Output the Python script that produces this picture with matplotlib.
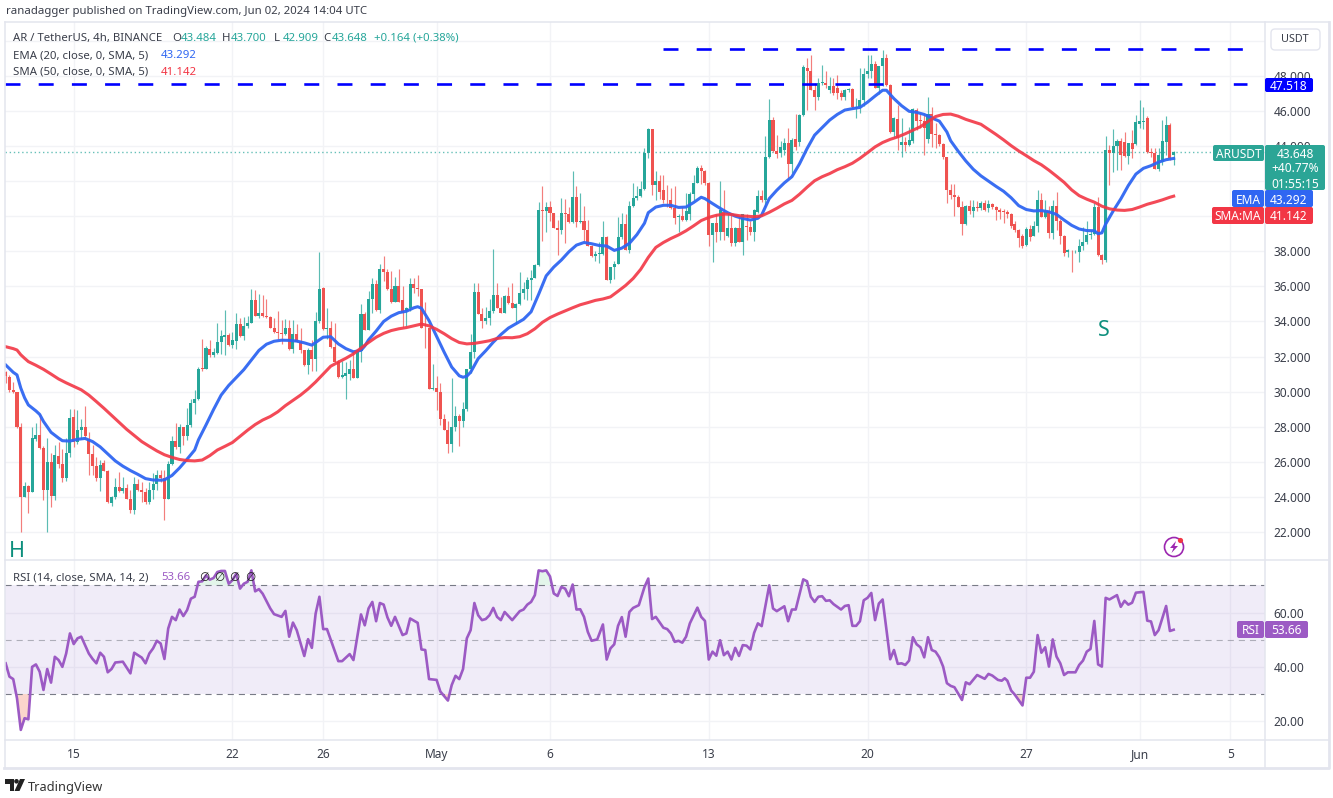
import matplotlib
matplotlib.use("Agg")
import matplotlib.pyplot as plt
from matplotlib.patches import FancyBboxPatch, Polygon, Circle
import numpy as np

plt.rcParams['font.family'] = ['Noto Sans', 'DejaVu Sans']

# 4h candles
opens = [31.1,30.85,30.1,30.0,28.0,24.0,24.6,24.3,27.3,27.5,
    26.8,24.4,26.0,24.05,26.35,25.9,25.05,26.5,28.55,27.15,
    27.8,28.0,27.3,26.45,25.75,25.05,25.95,25.5,23.65,24.0,
    24.55,24.35,24.5,23.85,23.25,24.75,24.4,24.3,23.7,24.4,
    24.75,25.25,25.05,23.9,25.9,27.2,26.85,28.0,27.45,28.1,
    29.35,29.55,31.35,31.3,32.45,32.1,32.2,32.85,33.1,33.25,
    32.65,32.9,33.85,33.15,33.75,33.9,35.25,34.3,34.5,34.3,
    34.25,33.65,33.4,33.35,33.3,33.65,32.45,33.3,32.85,32.35,
    31.5,32.4,31.85,34.0,35.9,33.55,33.65,32.55,31.7,30.85,
    30.9,31.0,31.3,30.8,32.3,34.4,33.5,35.3,36.15,34.65,
    37.0,36.8,35.85,35.1,36.0,35.25,34.6,34.75,36.15,35.9,
    35.85,33.65,33.6,30.15,30.2,30.0,28.45,27.8,27.0,28.0,
    28.6,28.3,29.0,31.3,32.25,35.7,34.45,34.0,34.2,34.6,
    35.5,34.75,34.5,35.45,35.05,34.75,35.0,35.6,35.85,36.35,
    36.5,37.2,40.35,40.3,40.5,40.2,39.3,39.2,40.2,40.1,
    39.65,41.1,39.65,39.75,39.2,38.3,37.75,37.85,37.85,38.8,
    36.35,37.1,37.3,38.8,39.55,38.1,40.6,41.05,41.15,41.55,
    43.6,44.95,41.75,42.0,41.5,40.95,40.9,40.45,39.95,40.0,
    39.8,40.15,41.25,41.9,42.75,42.6,41.9,38.95,39.6,39.1,
    40.25,38.85,39.3,38.45,39.35,38.55,39.45,39.4,39.1,40.25,
    41.15,40.9,43.4,45.5,43.7,43.6,43.75,44.15,43.0,44.4,
    44.25,45.75,48.45,48.3,47.2,46.8,47.6,47.6,47.2,47.4,
    47.3,47.0,46.8,47.2,47.25,46.15,46.2,46.6,48.1,48.3,
    48.7,47.3,48.55,49.0,47.5,44.8,45.55,44.05,44.25,44.05,
    44.3,46.05,45.5,45.45,44.4,45.85,44.7,44.6,44.1,43.4,
    41.5,41.2,41.1,40.55,39.55,40.6,40.3,40.55,40.45,40.75,
    40.45,40.7,40.55,40.35,40.3,40.25,40.15,39.55,39.2,38.85,
    38.35,39.25,38.85,39.45,40.95,39.95,40.3,39.05,40.6,39.7,
    38.85,37.95,38.1,38.05,37.98,38.3,38.5,38.95,39.0,40.55,
    37.8,37.5,43.8,43.6,44.0,44.3,44.25,43.45,44.2,44.1,
    45.25,45.35,45.6,43.65,43.6,42.7,43.1,44.25,45.2,43.484]
highs = [31.2,30.95,30.55,30.0,28.2,24.85,24.65,28.0,28.2,28.75,
    26.9,27.35,26.5,26.95,27.15,26.7,27.35,29.0,29.0,28.95,
    28.45,29.2,27.7,26.95,26.3,26.1,26.1,25.55,24.05,25.1,
    25.4,25.15,24.75,24.4,25.15,25.0,24.85,24.5,24.85,25.35,
    25.55,25.55,25.55,26.05,27.45,28.2,28.15,28.0,29.05,29.55,
    30.1,31.4,33.0,32.6,32.95,32.5,33.9,33.5,34.65,33.35,
    33.4,34.5,34.2,34.25,34.3,35.85,35.8,35.55,35.5,35.3,
    34.3,34.2,34.6,34.1,34.15,34.1,34.1,33.85,33.6,32.4,
    32.5,32.95,34.55,37.95,35.95,34.75,34.05,33.9,31.8,31.75,
    31.7,31.8,32.3,32.4,35.0,34.55,35.75,36.45,36.35,37.3,
    37.75,37.0,36.9,36.55,37.0,36.0,34.85,36.45,36.45,36.65,
    35.85,35.1,33.6,31.6,30.9,30.5,28.7,28.35,30.75,29.2,
    28.75,29.4,31.3,33.3,36.2,36.2,34.75,34.8,35.3,38.15,
    36.2,35.4,35.5,35.95,36.2,35.05,36.8,36.25,36.55,36.95,
    37.3,40.8,41.7,40.8,40.85,40.2,39.8,41.05,41.0,40.55,
    42.55,41.7,41.3,40.6,39.8,38.35,38.0,38.5,39.75,38.85,
    37.1,37.45,39.95,40.2,40.1,40.85,41.9,41.7,42.0,43.9,
    45.05,44.95,42.6,42.35,42.35,41.8,41.6,41.7,40.15,40.55,
    41.3,41.4,42.35,42.85,42.9,42.65,41.95,39.6,40.15,42.0,
    41.5,40.15,40.15,39.4,39.95,40.15,40.1,39.75,40.4,41.5,
    41.5,44.55,46.7,45.65,44.65,44.3,44.45,45.0,44.45,45.85,
    45.85,48.6,49.0,49.2,47.6,47.85,48.6,48.3,47.95,47.85,
    48.05,47.2,47.25,47.3,47.3,46.75,48.45,48.45,49.2,49.2,
    48.85,48.55,49.5,49.25,47.55,45.65,46.35,45.6,44.5,45.1,
    46.15,46.15,45.85,45.8,46.8,46.25,45.3,44.7,44.15,43.4,
    41.85,41.85,41.2,40.85,40.65,40.95,40.9,40.85,40.85,40.9,
    40.95,40.75,40.6,40.45,40.4,40.35,40.2,39.7,39.25,39.0,
    39.4,39.5,39.7,41.5,41.35,40.9,40.6,40.95,41.4,39.85,
    38.9,38.15,38.1,38.1,38.7,39.4,39.7,39.2,40.75,41.1,
    37.85,44.55,44.05,44.95,44.4,44.45,44.8,44.2,44.9,45.75,
    46.65,46.25,45.7,43.9,43.9,43.9,45.5,45.7,45.3,43.7]
lows = [30.5,30.0,29.9,27.9,22.0,24.0,23.1,24.3,27.2,26.75,
    23.8,22.0,23.4,23.8,25.65,24.85,24.9,26.3,26.85,27.0,
    27.3,27.3,25.25,25.25,24.9,24.35,25.5,23.65,23.5,23.85,
    24.3,24.2,23.85,23.1,23.0,24.35,23.7,23.6,23.6,23.85,
    24.4,24.85,22.7,23.9,25.8,26.75,26.5,26.95,27.25,28.0,
    28.75,29.5,31.2,31.3,32.0,31.95,32.15,32.15,32.1,32.6,
    32.5,32.45,33.1,32.95,33.6,33.9,34.3,34.2,34.25,34.2,
    33.6,33.35,33.0,32.7,33.2,32.4,32.2,32.8,32.2,31.45,
    31.0,31.15,31.2,33.9,33.5,33.0,32.5,31.7,30.8,30.8,
    29.6,30.65,30.8,30.8,31.7,33.5,33.5,34.5,34.6,34.5,
    36.3,35.8,35.05,35.1,35.1,33.7,33.75,34.6,35.6,35.45,
    33.6,32.5,30.15,30.1,28.95,28.1,27.8,26.5,26.55,27.75,
    26.9,28.0,28.9,31.05,31.9,34.45,33.6,33.85,33.8,34.5,
    34.75,34.5,34.5,35.0,34.75,33.85,34.95,35.3,35.2,35.2,
    36.5,37.15,38.6,39.1,39.75,39.3,37.8,39.0,38.45,39.6,
    39.6,39.4,39.6,38.6,38.3,37.65,37.45,37.35,37.8,36.35,
    36.2,36.4,37.3,38.7,38.1,37.9,40.5,40.9,41.1,41.5,
    43.3,41.2,40.9,41.0,40.75,40.55,40.4,39.55,39.1,39.75,
    39.75,39.8,40.95,41.9,41.85,41.8,38.3,37.4,38.55,38.65,
    38.65,38.8,38.3,38.3,38.5,37.8,38.65,38.9,38.6,40.2,
    40.8,40.5,43.3,43.65,43.3,43.4,43.5,42.2,42.45,43.8,
    44.0,45.7,46.05,47.2,46.05,46.6,47.5,47.3,47.0,46.9,
    46.7,46.65,46.6,47.1,46.15,45.6,45.9,46.3,47.9,47.9,
    47.3,46.95,47.4,47.4,44.75,44.45,43.75,43.4,43.7,44.0,
    44.2,44.9,45.0,43.5,44.2,43.95,43.9,44.0,43.25,40.75,
    41.0,40.0,40.5,38.95,39.5,40.1,39.95,40.3,40.35,40.3,
    40.25,40.4,39.8,39.85,39.6,39.9,39.3,39.1,38.25,38.2,
    38.3,38.6,38.85,39.1,39.95,39.9,38.75,38.7,39.2,38.4,
    37.75,37.65,36.8,37.9,37.4,38.1,38.4,38.7,38.9,37.75,
    37.25,37.4,41.8,42.5,42.65,42.65,43.4,43.0,43.3,44.05,
    45.0,44.95,43.6,43.4,42.7,42.6,42.9,43.5,43.2,42.909]
closes = [30.9,30.1,29.95,28.0,24.0,24.6,24.3,27.35,27.5,26.8,
    24.4,26.0,24.05,26.4,25.85,25.05,26.5,28.5,27.15,27.8,
    28.0,27.45,26.45,25.75,25.05,25.8,25.5,23.7,24.0,24.55,
    24.35,24.5,23.85,23.25,24.75,24.4,24.25,23.7,24.4,24.75,
    25.25,25.05,23.9,25.9,27.2,26.85,28.0,27.45,28.1,29.35,
    29.55,31.3,31.3,32.5,32.1,32.25,32.85,33.15,33.25,32.65,
    32.95,33.85,33.15,33.75,33.9,35.25,34.3,34.5,34.3,34.25,
    33.65,33.4,33.35,33.3,33.65,32.45,33.3,32.85,32.35,31.5,
    32.4,31.85,34.0,35.85,33.55,33.65,32.55,31.7,30.85,30.95,
    31.05,31.3,30.8,32.3,34.4,33.5,35.3,36.15,34.65,37.0,
    36.8,35.85,35.1,36.0,35.1,34.5,34.75,36.15,35.9,35.85,
    33.65,33.6,30.15,30.2,30.0,28.45,27.8,27.0,28.0,28.6,
    28.3,29.0,31.3,32.25,35.7,34.45,34.0,34.2,34.6,35.5,
    34.75,34.5,35.45,35.05,34.75,35.0,35.6,35.85,36.35,36.5,
    37.2,40.35,40.3,40.5,40.2,39.3,39.2,40.2,40.1,39.65,
    41.1,39.65,39.75,39.2,38.3,37.75,37.85,37.9,38.8,36.35,
    37.1,37.3,38.8,39.55,38.1,40.6,41.05,41.15,41.55,43.6,
    44.95,41.75,42.0,41.4,40.9,40.9,40.45,39.9,40.0,39.8,
    40.3,41.25,41.9,42.75,42.6,41.9,38.95,39.6,39.1,40.35,
    39.1,39.3,38.45,39.35,38.55,40.1,39.4,39.1,40.35,41.15,
    40.9,43.4,45.5,43.7,43.55,43.95,44.15,43.0,44.35,43.95,
    45.75,48.5,48.3,47.2,46.8,47.6,47.65,47.5,47.4,47.0,
    47.0,46.8,47.2,47.25,46.2,46.25,46.6,48.1,48.3,48.7,
    47.3,48.55,49.0,47.5,44.8,45.6,44.45,44.25,44.05,44.35,
    46.1,45.45,45.4,45.0,45.85,44.7,44.6,44.1,43.35,41.5,
    41.2,41.1,40.55,39.55,40.6,40.3,40.55,40.45,40.75,40.35,
    40.7,40.55,40.35,40.25,40.25,40.15,39.45,39.2,38.75,38.3,
    39.25,38.8,39.45,40.95,39.95,40.3,39.05,40.6,39.7,38.85,
    37.9,38.1,38.05,38.05,38.3,38.5,38.95,39.0,40.55,37.8,
    37.5,43.8,43.6,44.0,44.3,43.5,43.45,44.2,43.85,45.35,
    45.4,45.45,43.65,43.6,42.7,43.5,44.3,45.2,43.3,43.648]

# moving averages
ema_bar = [0,2,3,4,5,6,8,9,10,12,14,15,17,19,21,23,25,27,29,31,33,35,37,39,41,42,44,46,48,50,51,53,55,57,59,61,63,65,67,69,71,73,75,77,79,81,82,84,86,
    88,90,92,94,95,96,98,100,102,104,106,108,109,110,112,114,116,118,120,121,122,123,125,127,129,131,133,135,137,139,141,143,145,147,149,151,153,155,157,159,161,163,165,167,169,
    170,172,174,176,178,180,182,184,185,187,189,191,193,195,197,199,200,202,204,206,208,210,212,214,216,218,220,222,224,226,228,230,232,233,235,237,239,241,243,245,247,249,250,252,
    254,256,258,260,262,264,266,268,270,272,274,276,278,280,282,284,286,288,289,290,291,293,295,297,299,301,303,305,307,309]
ema_val = [31.52,31.1,30.95,30.2,29.65,29.24,28.9,28.7,28.3,27.68,27.35,27.2,27.18,27.28,27.33,27.15,26.85,26.45,26.05,25.75,25.5,25.28,25.04,24.96,24.95,24.97,25.22,25.65,26.15,26.67,27.25,28.1,28.98,29.8,30.35,30.8,31.25,31.8,32.35,32.7,32.87,32.93,32.92,32.88,32.78,32.65,32.8,33.1,33.13,
    32.72,32.45,32.27,32.35,32.6,32.95,33.45,34.0,34.3,34.5,34.58,34.78,34.84,34.75,34.05,33.15,32.25,31.4,30.9,30.82,30.88,31.1,31.88,32.33,32.82,33.25,33.62,33.87,34.12,34.55,35.55,36.6,37.1,37.5,37.97,38.35,38.5,38.43,38.33,38.3,38.05,38.18,38.45,38.95,39.6,
    40.2,40.52,40.62,40.62,40.5,40.52,40.78,41.08,41.0,40.72,40.45,40.2,40.0,39.87,39.78,39.88,40.07,41.0,41.48,41.9,42.25,42.98,43.85,44.62,45.05,45.48,45.8,46.05,46.13,46.2,46.5,46.85,47.18,47.18,46.7,46.3,45.98,45.92,45.8,45.6,45.42,44.8,44.3,43.7,
    43.15,42.67,42.3,42.0,41.7,41.42,41.05,40.6,40.38,40.3,40.32,40.25,40.1,39.78,39.48,39.27,39.18,39.17,39.0,39.05,39.55,40.3,40.98,41.75,42.4,42.73,42.88,43.08,43.22,43.292]
sma_bar = [0,2,3,4,5,6,8,10,12,14,16,18,20,22,24,26,28,30,32,34,36,38,40,42,44,46,48,50,52,54,56,58,60,62,64,66,68,70,72,74,76,78,80,82,84,86,
    88,90,92,94,96,98,100,102,104,106,108,110,112,114,116,118,120,122,124,126,128,130,132,134,136,138,140,142,144,146,148,150,152,154,156,158,160,162,164,166,168,
    170,172,174,176,178,180,182,184,186,188,190,192,194,196,198,200,202,204,206,208,210,212,214,216,218,220,222,224,226,228,230,232,234,236,238,240,242,244,246,248,250,
    252,254,256,258,260,262,264,266,268,270,272,274,276,278,280,282,284,286,288,290,292,294,296,298,300,302,304,306,308,309]
sma_val = [32.56,32.45,32.37,32.1,31.9,31.71,31.5,31.27,31.0,30.72,30.5,30.3,30.1,29.8,29.43,29.05,28.65,28.25,27.85,27.5,27.15,26.88,26.62,26.4,26.25,26.13,26.07,26.05,26.1,26.35,26.67,26.88,27.1,27.45,27.8,28.12,28.38,28.58,28.85,29.2,29.5,29.8,30.15,30.55,31.0,31.45,
    31.68,31.9,32.15,32.48,32.8,33.1,33.32,33.48,33.58,33.65,33.75,33.85,33.75,33.55,33.3,33.02,32.8,32.72,32.75,32.82,32.9,33.03,33.08,33.07,33.13,33.3,33.58,33.95,34.22,34.42,34.6,34.78,34.95,35.07,35.2,35.28,35.4,35.72,36.05,36.45,36.97,
    37.65,38.22,38.5,38.73,38.93,39.17,39.45,39.75,39.93,40.05,40.12,40.1,40.03,40.0,39.97,40.02,40.22,40.45,40.7,40.9,41.25,41.65,42.02,42.25,42.43,42.65,42.82,43.02,43.3,43.62,43.95,44.2,44.38,44.52,44.7,44.9,45.1,45.4,45.68,45.8,45.82,
    45.7,45.52,45.38,45.24,44.95,44.66,44.35,44.02,43.72,43.45,43.17,42.93,42.62,42.28,41.93,41.5,41.17,40.97,40.8,40.57,40.42,40.35,40.33,40.38,40.52,40.68,40.8,40.93,41.08,41.142]

# RSI, one reading per turning point
rsi_bar = [0,1,2,3,4,5,6,7,8,9,10,11,12,13,14,15,16,17,18,19,20,21,22,23,24,25,26,27,28,29,31,33,34,36,37,38,39,40,41,42,43,44,45,46,47,48,49,50,51,52,53,54,55,56,57,58,59,60,61,62,63,64,65,66,67,68,70,71,73,74,75,76,77,79,80,81,82,83,84,85,88,89,91,92,94,95,96,97,98,99,100,101,102,103,105,106,107,109,110,111,112,114,115,117,
    118,119,120,121,122,123,124,125,126,127,128,129,130,131,132,134,136,137,138,139,140,141,142,143,144,145,146,147,148,149,150,151,152,153,154,155,156.5,158,159,160,161,162,163,164,165,166,167.5,169,170,171,172,174,175,176,177,178,179,180,181,183,184,185,186,187,188,189,190,191,192,193,194,195,196,197,198,199,200,202,203,204,206,207,208,209,211,212,213,214,215,216,217,218,219,221,222,223,224,225,226,227,228,229,230,231,232,
    234,235,236,237,238,239,240,241,242,243,244,245,246,247,248,249,250,251,253,254,255,257,259,260,261,262.5,263.5,264.3,265,266,267,269,270,271,272,273,274,275,276,277,278,279,280,281,283,284,285,286,287,288,289,290,291,292,294,295,296,297,298,299,301,302,303,304,305,307,308,309]
rsi_val = [41.3,36.4,35.5,28.4,16.8,21.1,20.7,40,40.9,38.2,31.5,39.2,34.2,43.7,42.5,40,44.9,52.3,48.4,50.5,51.1,48,44.9,42.9,41.3,45.2,43.7,38,39.2,41.6,41.9,37.6,45.2,43.4,41.3,44.9,46.8,49.6,48.6,42.9,54.1,58.4,57.2,61.1,58.7,60.9,65.1,65.8,71.3,71.5,73.7,72.1,72.7,74.9,75.3,75.3,70.6,71.9,74.3,68.8,70.6,71.3,75.5,67.8,68.6,66.9,61.5,59.4,58.4,60.6,51.1,56.3,53.5,44,50.2,47,59.6,65.8,53.9,53.9,42.1,42.1,44.7,42.5,59.3,55.3,61.5,63.9,56.8,63.5,62.9,58.2,55.1,58.4,51.7,52.3,57.8,56.2,46.4,46.2,35.5,35.2,30.9,27.6,
    33.3,36.7,35.5,39.2,50.5,53.5,63.5,59,57.2,57.6,59,61.7,58.4,57.2,60.2,57.2,60.5,61.1,62.9,63.9,66.4,75.5,75.2,75.5,73.3,67,66.1,69.4,68.8,66,70.3,61.1,61.2,58.4,52.9,49.6,50.1,55.6,42.7,46.8,48.3,55.1,58.3,51.1,60.2,61.7,62.7,69.4,72.5,57.6,58.4,54.4,53.9,52.3,49.2,49.6,48.9,51.1,56,61.8,58.4,56.9,42.7,45.6,44.1,49.8,44.3,45.6,42.7,47,44,48,47.8,46.4,52.5,56,55,70,61.5,60.5,62.3,56.8,61.1,61.1,72.2,71.5,65.8,63.9,65.8,66,64.3,64.5,63.1,61.1,62.4,62.7,55.1,55.1,56.8,64.5,65.4,67.2,57.2,63.3,64.8,
    42.8,46.2,41.1,41.3,40.7,42.3,50.9,48.3,47.2,43.5,50.9,46.2,45.6,43.5,40.1,34,33,32.5,27.8,34.3,33.6,37,35.6,37.4,36.8,35.2,34.9,35.8,34.9,31.3,29.7,25.8,36,36,38.2,51.7,45.2,47.2,40.1,50.1,43.8,41.3,37,38,38,40.7,42.3,45.6,46.6,56.9,40.9,40.1,65.4,64.8,66.4,62.1,64.3,62.9,63.6,67.3,67.6,57,56.7,51.7,53.5,62.4,53.2,53.66]

# levels and axis labels
resistance_low = 47.518
resistance_high = 49.53
last_price = 43.648
price_ticks = [22, 24, 26, 28, 30, 32, 34, 36, 38, 40, 42, 44, 46, 48]
hidden_price_labels = [40, 42]  # sit fully behind the tags on the scale
rsi_ticks = [20, 40, 60]
date_bars = [18, 60, 84, 114, 144, 186, 228, 270, 300, 324]
date_labels = ['15', '22', '26', 'May', '6', '13', '20', '27', 'Jun', '5']

UP = '#26a69a'
DOWN = '#ef5350'
BLUE = '#2f66f2'
RED = '#f23645'
PURPLE = '#9c5ac4'
GRID = '#f2f3f6'
BORDER = '#e3e5ee'
TEXT = '#3a3e4a'
W, H = 1333, 798


def rect(x0, y0, x1, y1):
    return [x0 / W, 1 - y1 / H, (x1 - x0) / W, (y1 - y0) / H]


fig = plt.figure(figsize=(W / 100, H / 100), dpi=100, facecolor='white')
ax = fig.add_axes(rect(5, 22, 1265, 560))
ax_rsi = fig.add_axes(rect(5, 560, 1265, 740))

bar_px = 3.78
xlim = ((5 - 5.67) / bar_px, (1265 - 5.67) / bar_px)

bars = np.arange(len(closes))
o = np.array(opens)
c = np.array(closes)
cols = [UP if c[i] >= o[i] else DOWN for i in bars]

# price pane
ax.set_xlim(xlim)
ax.set_ylim(20.40, 51.07)
ax.vlines(bars, lows, highs, colors=cols, lw=0.85, alpha=0.75, zorder=3)
ax.bar(bars, np.maximum(np.abs(c - o), 0.05), bottom=np.minimum(o, c), width=0.8, color=cols, lw=0, zorder=4)
ax.plot(ema_bar, ema_val, color=BLUE, lw=2.2, alpha=0.95, zorder=5, solid_joinstyle='round')
ax.plot(sma_bar, sma_val, color=RED, lw=2.2, alpha=0.9, zorder=5, solid_joinstyle='round')
ax.axhline(last_price, color=UP, lw=1, ls=(0, (1, 2)), alpha=0.7, zorder=2)
dash_style = (0, (5.68, 6.9))
ax.plot([-0.18, 328.3], [resistance_low] * 2, color='#0000ff', lw=1.9, ls=dash_style, zorder=6, dash_capstyle='butt')
ax.plot([173.9, 328.3], [resistance_high] * 2, color='#0000ff', lw=1.9, ls=dash_style, zorder=6, dash_capstyle='butt')
ax.text(3, 20.9, 'H', color='#0d8f7d', fontsize=15.5, ha='center', va='center', zorder=7)
ax.text(290.6, 33.5, 'S', color='#0d8f7d', fontsize=15.5, ha='center', va='center', zorder=7)

ax.set_yticks(price_ticks)
ax.set_yticklabels(['' if t in hidden_price_labels else '%.3f' % t for t in price_ticks])
ax.axhline(50, color=GRID, lw=1, zorder=0)

# RSI pane
r_x = np.array(rsi_bar, dtype=float)
r_y = np.array(rsi_val, dtype=float)
ax_rsi.set_xlim(xlim)
ax_rsi.set_ylim(13.08, 79.33)
ax_rsi.axhspan(30, 70, color='#7e57c2', alpha=0.11, lw=0, zorder=1)
ax_rsi.fill_between(r_x, r_y, 30, where=r_y < 30, interpolate=True, color='#fbd5cc', lw=0, zorder=1)
ax_rsi.fill_between(r_x, r_y, 70, where=r_y > 70, interpolate=True, color='#e3f5ea', lw=0, zorder=1)
for lev, a in zip([70, 50, 30], [1, 0.55, 1]):
    ax_rsi.axhline(lev, color='#787b86', lw=0.8, ls=(0, (5.5, 4.5)), alpha=a, zorder=2)
ax_rsi.plot(r_x, r_y, color=PURPLE, lw=1.9, zorder=5, solid_joinstyle='round')
ax_rsi.set_yticks(rsi_ticks)
ax_rsi.set_yticklabels(['%.2f' % t for t in rsi_ticks])

for a in (ax, ax_rsi):
    a.yaxis.tick_right()
    a.tick_params(axis='y', length=0, pad=6, labelsize=8.6, labelcolor=TEXT)
    a.set_xticks(date_bars)
    a.grid(True, color=GRID, lw=1, zorder=0)
    a.set_axisbelow(True)
    for s in a.spines.values():
        s.set_visible(False)
ax.tick_params(axis='x', length=0, labelbottom=False)
ax_rsi.set_xticklabels(date_labels)
ax_rsi.tick_params(axis='x', length=0, pad=6, labelsize=8.6, labelcolor=TEXT)
for lab in ax_rsi.get_xticklabels():
    if lab.get_text() in ('May', 'Jun'):
        lab.set_fontweight('bold')

# overlay in pixels for the frame, tags and header
top = fig.add_axes([0, 0, 1, 1], zorder=10)
top.set_xlim(0, W)
top.set_ylim(H, 0)
top.axis('off')
top.patch.set_alpha(0)

for seg in [((5, 22), (1329, 22)), ((5, 22), (5, 768)), ((1265, 22), (1265, 768)), ((5, 560), (1329, 560)), ((5, 740), (1329, 740))]:
    top.plot([seg[0][0], seg[1][0]], [seg[0][1], seg[1][1]], color=BORDER, lw=1.1)
top.plot([4, 1329, 1329], [768, 768, 22], color=BORDER, lw=2)


def tag(x0, y0, x1, y1, color, lines, fs=8.6):
    top.add_patch(FancyBboxPatch((x0 + 1, y0 + 1), x1 - x0 - 2, y1 - y0 - 2, boxstyle='round,pad=1,rounding_size=2',
                                 fc=color, ec='none', zorder=3))
    step = (y1 - y0) / len(lines)
    for i, s in enumerate(lines):
        top.text((x0 + x1) / 2, y0 + step * (i + 0.5), s, color='white', fontsize=fs, ha='center', va='center_baseline', zorder=4)


tag(1265, 78, 1313, 92, '#0000ff', ['47.518'])
tag(1213, 145, 1264, 161, '#2ba596', ['ARUSDT'])
tag(1265, 145, 1325, 190, '#2ba596', ['43.648', '+40.77%', '01:55:15'])
tag(1232, 190, 1264, 207, BLUE, ['EMA'])
tag(1265, 190, 1313, 207, BLUE, ['43.292'])
tag(1212, 207, 1264, 224, RED, ['SMA:MA'])
tag(1265, 207, 1313, 224, RED, ['41.142'])
tag(1237, 621, 1264, 638, PURPLE, ['RSI'])
tag(1265, 621, 1308, 638, PURPLE, ['53.66'])

# USDT button
top.add_patch(FancyBboxPatch((1272, 30), 47, 19, boxstyle='round,pad=1,rounding_size=4', fc='white', ec=BORDER, lw=1, zorder=3))
top.text(1295, 40, 'USDT', fontsize=7.8, color=TEXT, ha='center', va='center', zorder=4)


def label(x, y, s, color=TEXT, fs=8.2, **kw):
    top.text(x, y, s, color=color, fontsize=fs, ha='left', va='center_baseline', zorder=5, **kw)


label(6, 10, 'ranadagger published on TradingView.com, Jun 02, 2024 14:04 UTC')
label(13, 37, 'AR / TetherUS, 4h, BINANCE')
head_x = [172, 222, 274, 323]
head_k = ['O', 'H', 'L', 'C']
head_v = ['43.484', '43.700', '42.909', '43.648']
for x, k, v in zip(head_x, head_k, head_v):
    label(x, 37, k)
    label(x + 9, 37, v, color=UP)
label(374, 37, '+0.164 (+0.38%)', color=UP)
label(13, 54, 'EMA (20, close, 0, SMA, 5)')
label(161, 54, '43.292', color=BLUE)
label(13, 71, 'SMA (50, close, 0, SMA, 5)')
label(161, 71, '41.142', color=RED)
label(13, 576, 'RSI (14, close, SMA, 14, 2)')
label(161, 576, '53.66', color=PURPLE)
for x in [199, 214, 229, 245]:
    top.text(x, 576, '\u2205', color='#222222', fontsize=8.6, family='DejaVu Sans', va='center_baseline', zorder=5)

# TradingView logo
top.add_patch(Polygon([(5, 779), (14, 779), (14, 791), (9.5, 791), (9.5, 783.5), (5, 783.5)], fc='#222222', ec='none'))
top.add_patch(Circle((16.5, 781.3), 2.3, fc='#222222', ec='none'))
top.add_patch(Polygon([(20, 779), (25, 779), (19.5, 791), (14.5, 791)], fc='#222222', ec='none'))
label(28, 785.5, 'TradingView', color='#333333', fs=9.2)

# bolt badge
top.add_patch(Circle((1174, 547), 9.5, fc='white', ec='#9c27b0', lw=1.2, zorder=6))
top.add_patch(Polygon([(1176, 541), (1170, 548), (1173.5, 548), (1171.5, 553), (1178, 546), (1174.5, 546)], fc='#9c27b0', ec='none', zorder=7))
top.add_patch(Circle((1180.5, 540.5), 2.6, fc='#f23645', ec='none', zorder=8))

fig.savefig('out.png', dpi=100)
